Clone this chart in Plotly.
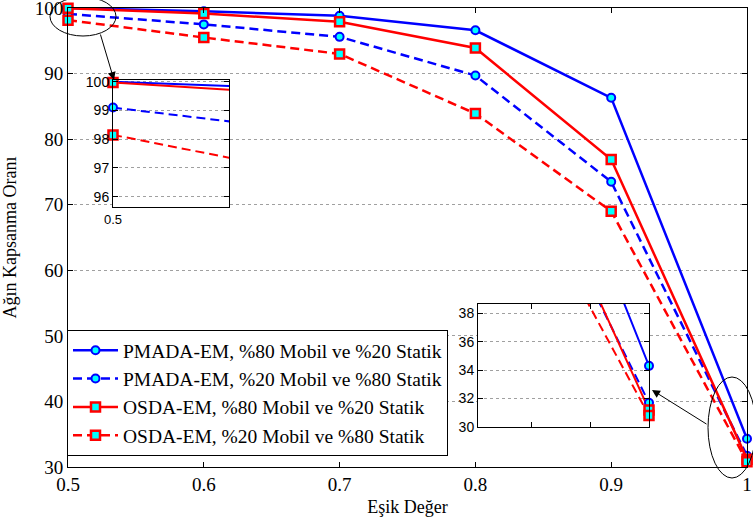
import plotly.graph_objects as go

thresholds = [0.5, 0.6, 0.7, 0.8, 0.9, 1.0]
pmada_80m = [100.0, 99.5, 98.8, 96.6, 86.3, 34.3]
pmada_20m = [99.1, 97.5, 95.6, 89.7, 73.5, 31.7]
osda_80m = [99.97, 99.15, 97.9, 93.9, 76.9, 31.2]
osda_20m = [98.15, 95.5, 93.0, 83.9, 69.0, 30.8]

names = ["PMADA-EM, %80 Mobil ve %20 Statik",
         "PMADA-EM, %20 Mobil ve %80 Statik",
         "OSDA-EM, %80 Mobil ve %20 Statik",
         "OSDA-EM, %20 Mobil ve %80 Statik"]
series = [pmada_80m, pmada_20m, osda_80m, osda_20m]
colors = ["#0000FF", "#0000FF", "#FF0000", "#FF0000"]
dashes = ["solid", "9px,5px", "solid", "9px,5px"]
symbols = ["circle", "circle", "square", "square"]
msizes = [8, 8, 9, 9]
mlw = [2, 2, 2.5, 2.5]

main_y_ticks = [30, 40, 50, 60, 70, 80, 90, 100]
main_x_ticks = [0.5, 0.6, 0.7, 0.8, 0.9, 1.0]
main_x_labels = ["0.5", "0.6", "0.7", "0.8", "0.9", "1"]
inset1_ticks = [96, 97, 98, 99, 100]
inset2_ticks = [30, 32, 34, 36, 38]

W, H = 753, 517
L, R, T, B = 68, 6, 8, 50
pw, ph = W - L - R, H - T - B


def px(xp):
    return (xp - L) / pw


def py(yp):
    return (H - B - yp) / ph


fig = go.Figure()

for i in range(4):
    fig.add_trace(go.Scatter(
        x=thresholds, y=series[i], name=names[i], mode="lines+markers",
        line=dict(color=colors[i], width=2.5, dash=dashes[i]),
        marker=dict(symbol=symbols[i], size=msizes[i], color="#00FFFF",
                    line=dict(color=colors[i], width=mlw[i])),
        cliponaxis=False, xaxis="x", yaxis="y"))

# inset traces
for ax, idx in (("2", 0), ("3", -1)):
    for i in range(4):
        fig.add_trace(go.Scatter(
            x=thresholds, y=series[i], mode="lines", showlegend=False,
            line=dict(color=colors[i], width=2, dash=dashes[i]),
            xaxis="x" + ax, yaxis="y" + ax, hoverinfo="skip"))
    for i in range(4):
        fig.add_trace(go.Scatter(
            x=[thresholds[idx]], y=[series[i][idx]], mode="markers", showlegend=False,
            marker=dict(symbol=symbols[i], size=msizes[i], color="#00FFFF",
                        line=dict(color=colors[i], width=mlw[i])),
            cliponaxis=False, xaxis="x" + ax, yaxis="y" + ax))

serif = "Liberation Serif, Times New Roman, serif"
sans = "Liberation Sans, Arial, sans-serif"

axis_common = dict(showline=True, linecolor="black", linewidth=1, mirror="ticks",
                   ticks="inside", ticklen=5, tickcolor="black", zeroline=False,
                   automargin=False, ticklabeloverflow="allow")
grid = dict(showgrid=True, gridcolor="#a0a0a0", griddash="dot", gridwidth=1)

fig.update_layout(
    width=W, height=H, margin=dict(l=L, r=R, t=T, b=B, autoexpand=False),
    paper_bgcolor="white", plot_bgcolor="white",
    font=dict(family=serif, size=19, color="black"),
    xaxis=dict(domain=[0, 1], range=[0.5, 1.0], tickvals=main_x_ticks,
               ticktext=main_x_labels, showgrid=False,
               title=dict(text="Eşik Değer", font=dict(size=18)),
               anchor="y", **axis_common),
    yaxis=dict(domain=[0, 1], range=[30, 100], tickvals=main_y_ticks,
               title=dict(text="Ağın Kapsanma Oranı", font=dict(size=18)),
               anchor="x", **axis_common, **grid),
    xaxis2=dict(domain=[px(113), px(229)], range=[0.5, 0.53], tickvals=[0.5],
                ticktext=["0.5"], showgrid=False, anchor="y2",
                tickfont=dict(family=sans, size=13), **axis_common),
    yaxis2=dict(domain=[py(207), py(80)], range=[95.64, 100.06], tickvals=inset1_ticks,
                anchor="x2", tickfont=dict(family=sans, size=14), **axis_common, **grid),
    xaxis3=dict(domain=[px(478), px(649)], range=[0.942, 1.0], showticklabels=False,
                showgrid=False, anchor="y3", **axis_common),
    yaxis3=dict(domain=[py(427), py(304)], range=[30, 38.65], tickvals=inset2_ticks,
                anchor="x3", tickfont=dict(family=sans, size=14), **axis_common, **grid),
    legend=dict(x=px(67), y=py(456), xanchor="left", yanchor="bottom",
                bgcolor="white", bordercolor="black", borderwidth=1, itemwidth=45,
                font=dict(family=serif, size=19.5), tracegroupgap=0),
    showlegend=True,
)

# ellipses
fig.add_shape(type="circle", xref="paper", yref="paper",
              x0=px(50), x1=px(116), y0=py(36), y1=py(-3),
              line=dict(color="black", width=1))
fig.add_shape(type="circle", xref="paper", yref="paper",
              x0=px(708), x1=px(756), y0=py(478), y1=py(377),
              line=dict(color="black", width=1))

# arrows
fig.add_annotation(x=px(114), y=py(80), xref="paper", yref="paper", text="",
                   showarrow=True, arrowhead=2, arrowsize=1.6, arrowwidth=1,
                   arrowcolor="black", ax=-14, ay=-47)
fig.add_annotation(x=px(652), y=py(390), xref="paper", yref="paper", text="",
                   showarrow=True, arrowhead=2, arrowsize=1.6, arrowwidth=1,
                   arrowcolor="black", ax=56, ay=35)

fig.write_html("out.html", config={"displayModeBar": False},
               post_script="document.body.style.margin='0';document.body.style.overflow='hidden';")
